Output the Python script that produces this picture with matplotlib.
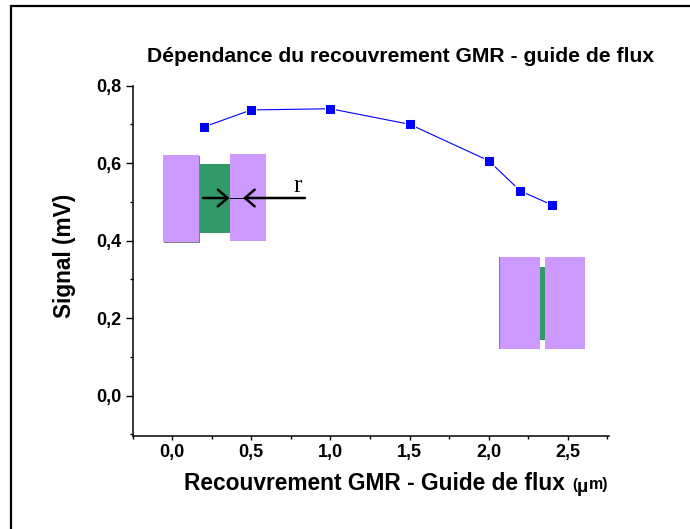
import matplotlib
matplotlib.use("Agg")
import matplotlib.pyplot as plt
from matplotlib.patches import Rectangle
from matplotlib.ticker import MultipleLocator, FuncFormatter

# mesures
recouvrement = [0.2, 0.5, 1.0, 1.5, 2.0, 2.2, 2.4]
signal = [0.693, 0.737, 0.74, 0.70, 0.606, 0.528, 0.492]

x_ticks = [0.0, 0.5, 1.0, 1.5, 2.0, 2.5]
y_ticks = [0.0, 0.2, 0.4, 0.6, 0.8]

W, H = 690, 529
plt.rcParams['font.family'] = ['Liberation Sans', 'DejaVu Sans']

fig = plt.figure(figsize=(W / 100, H / 100), dpi=100)

# position des axes en pixels
left, right, top, bottom = 132.5, 609, 85.5, 436
ax = fig.add_axes([left / W, 1 - bottom / H, (right - left) / W, (bottom - top) / H])
ax.plot(recouvrement, signal, '-s', color='#0000ff', lw=0.8, ms=6.6,
        mec='white', mew=0.7)
ax.set_xlim(-0.25, 2.76)
ax.set_ylim(-0.104, 0.8)

ax.spines['top'].set_visible(False)
ax.spines['right'].set_visible(False)
ax.spines['left'].set_linewidth(1.1)
ax.spines['bottom'].set_linewidth(1.1)
ax.set_xticks(x_ticks)
ax.set_yticks(y_ticks)
ax.xaxis.set_minor_locator(MultipleLocator(0.25))
ax.yaxis.set_minor_locator(MultipleLocator(0.1))
virgule = FuncFormatter(lambda v, p: f"{v:.1f}".replace('.', ','))
ax.xaxis.set_major_formatter(virgule)
ax.yaxis.set_major_formatter(virgule)
ax.tick_params(axis='y', which='major', length=5, width=1, pad=3)
ax.tick_params(axis='x', which='major', length=3, width=1, pad=3)
ax.tick_params(which='minor', length=2.5, width=1)
ax.tick_params(labelsize=13)
for t in ax.get_xticklabels() + ax.get_yticklabels():
    t.set_fontweight('bold')


def px_text(x, y, s, **kw):
    fig.text(x / W, 1 - y / H, s, **kw)


def px_rect(x0, y0, x1, y1, color, z=1):
    fig.add_artist(Rectangle((x0 / W, 1 - y1 / H), (x1 - x0) / W, (y1 - y0) / H,
                             transform=fig.transFigure, fc=color, ec='none', zorder=z))


px_text(401, 57, "Dépendance du recouvrement GMR - guide de flux", fontsize=15.2,
        fontweight='bold', ha='center', va='center')
px_text(65, 255.5, "Signal (mV)", fontsize=16.3, fontweight='bold', rotation=90,
        ha='center', va='center')
px_text(184, 483, "Recouvrement GMR - Guide de flux", fontsize=16.4,
        fontweight='bold', ha='left', va='center')
px_text(572, 485, "(", fontsize=10.5, fontweight='bold', ha='left', va='center')
px_text(577, 487, "µ", fontsize=14, fontweight='bold', ha='left', va='center')
px_text(589, 485, "m)", fontsize=11.5, fontweight='bold', ha='left', va='center')

# schema de gauche
vert = '#339966'
violet = '#cc99ff'
gris = '#808080'
px_rect(164, 156, 200, 243, gris, 2)
px_rect(199.5, 164, 230, 233, vert, 3)
px_rect(163, 155, 199, 242, violet, 4)
px_rect(230, 154, 266, 241, violet, 4)

# schema de droite
px_rect(498.5, 257, 540, 349, gris, 2)
px_rect(540, 267, 545, 340, vert, 3)
px_rect(499.5, 257, 540, 349, violet, 4)
px_rect(545, 257, 585, 349, violet, 4)

# fleches
overlay = fig.add_axes([0, 0, 1, 1], zorder=10)
overlay.set_xlim(0, W)
overlay.set_ylim(H, 0)
overlay.axis('off')
style = '->,head_length=0.7,head_width=0.6'
overlay.annotate("", xy=(229.5, 198), xytext=(203, 198),
                 arrowprops=dict(arrowstyle=style, lw=1.8, color='black', shrinkA=0, shrinkB=0))
overlay.annotate("", xy=(243, 198), xytext=(305, 198),
                 arrowprops=dict(arrowstyle=style, lw=1.8, color='black', shrinkA=0, shrinkB=0))
overlay.plot([229.5, 243], [198, 198], color='black', lw=0.7)
overlay.text(298, 186, "r", fontsize=18, family='Liberation Serif', ha='center', va='center')

# cadre : seulement haut et gauche
overlay.plot([11, 11, 690], [529, 6, 6], color='black', lw=1.6, clip_on=False,
             solid_joinstyle='miter')

fig.savefig("out.png", dpi=100)
